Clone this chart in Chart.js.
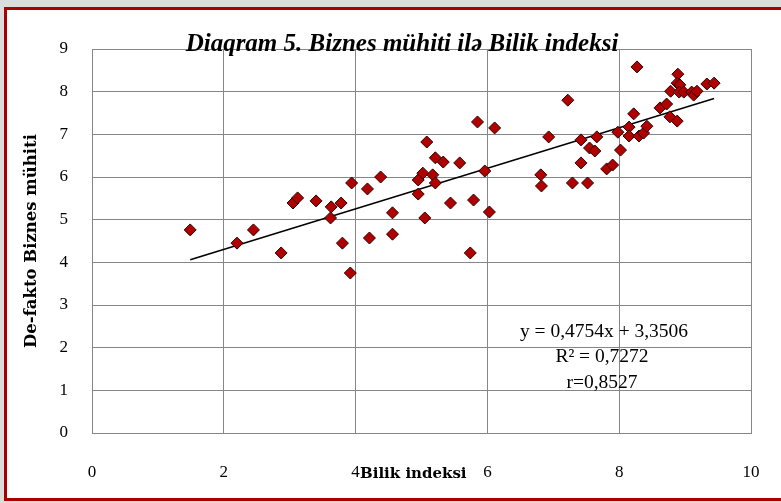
<!DOCTYPE html>
<html>
<head>
<meta charset="utf-8">
<script src="https://cdn.jsdelivr.net/npm/chart.js@4/dist/chart.umd.min.js"></script>
<style>
  html, body { margin: 0; padding: 0; width: 781px; height: 503px; overflow: hidden; background: #dcdcdc; }
  #frame { position: absolute; left: 4px; top: 7px; width: 800px; height: 488px; border: 3px solid #a80000; background: #fff; }
  #chartBiznes { position: absolute; left: 0; top: 0; }
</style>
</head>
<body>
<div id="frame"></div>
<canvas id="chartBiznes" width="781" height="503"></canvas>
<script>
// Bilik indeksi (x) vs De-fakto Biznes mühiti (y)
const bilikIndeksi = [
  1.49, 2.20, 2.45, 2.87, 3.05, 3.12, 3.40, 3.63, 3.62, 3.78,
  3.80, 3.92, 3.94, 4.18, 4.21, 4.38, 4.56, 4.56, 4.95, 4.95,
  5.02, 5.05, 5.08, 5.17, 5.21, 5.21, 5.33, 5.44, 5.58, 5.74,
  5.79, 5.85, 5.96, 6.03, 6.11, 6.81, 6.82, 6.93, 7.22, 7.29,
  7.42, 7.42, 7.52, 7.55, 7.63, 7.66, 7.81, 7.90, 7.98, 8.02,
  8.15, 8.15, 8.22, 8.27, 8.30, 8.37, 8.42, 8.62, 8.72, 8.77,
  8.78, 8.88, 8.89, 8.88, 8.92, 8.91, 8.98, 9.10, 9.13, 9.18,
  9.33, 9.44
];
const biznesMuhiti = [
  4.76, 4.45, 4.76, 4.22, 5.39, 5.51, 5.44, 5.30, 5.04, 5.39,
  4.45, 3.75, 5.86, 5.72, 4.57, 6.00, 5.16, 4.66, 5.60, 5.93,
  6.09, 5.04, 6.82, 6.05, 5.86, 6.45, 6.35, 5.39, 6.33, 4.22,
  5.46, 7.29, 6.14, 5.18, 7.15, 6.05, 5.79, 6.94, 7.80, 5.86,
  6.87, 6.33, 5.86, 6.68, 6.61, 6.94, 6.19, 6.28, 7.05, 6.63,
  7.17, 6.96, 7.48, 8.58, 6.96, 7.03, 7.19, 7.62, 7.71, 7.41,
  8.01, 7.31, 8.41, 8.20, 8.16, 7.99, 7.99, 7.99, 7.92, 8.01,
  8.18, 8.20
];
// trendline from the picture's equation
const trendSlope = 0.4754;
const trendIntercept = 3.3506;
const trendRange = [1.49, 9.44];
const trendLabels = ['y = 0,4754x + 3,3506', 'R² = 0,7272', 'r=0,8527'];
const chartTitle = 'Diaqram 5. Biznes mühiti ilə Bilik indeksi';
const xTitle = 'Bilik indeksi';
const yTitle = 'De-fakto Biznes mühiti';

document.addEventListener('DOMContentLoaded', function () {
  chartBiznesBilik();
});

function chartBiznesBilik() {
  const ctxBiznes = document.getElementById('chartBiznes').getContext('2d');
  const points = bilikIndeksi.map((x, i) => ({ x: x, y: biznesMuhiti[i] }));
  const trend = trendRange.map(x => ({ x: x, y: trendSlope * x + trendIntercept }));
  const serif = '"Liberation Serif", "DejaVu Serif", serif';
  const wideSerif = '"DejaVu Serif", serif';

  const textPlugin = {
    id: 'texts',
    afterDraw(chart) {
      const c = chart.ctx;
      c.save();
      c.fillStyle = '#000';
      c.textBaseline = 'middle';
      c.textAlign = 'center';
      c.font = 'bold italic 25px ' + serif;
      c.fillText(chartTitle, 402, 45);

      c.font = '19.5px ' + serif;
      c.fillText(trendLabels[0], 604, 332);
      c.fillText(trendLabels[1], 602, 357);
      c.fillText(trendLabels[2], 602, 383);

      c.textAlign = 'left';
      c.font = 'bold 15px ' + wideSerif;
      c.fillText(xTitle, 360, 474);

      c.translate(32, 241);
      c.rotate(-Math.PI / 2);
      c.textAlign = 'center';
      c.font = 'bold 16.5px ' + wideSerif;
      c.fillText(yTitle, 0, 0);
      c.restore();
    }
  };

  new Chart(ctxBiznes, {
    data: {
      datasets: [{
        type: 'scatter',
        label: 'Ölkələr',
        data: points,
        pointStyle: 'rectRot',
        pointRadius: 6,
        backgroundColor: '#b00000',
        borderColor: '#2a0000',
        borderWidth: 1
      }, {
        type: 'line',
        label: 'Trend',
        data: trend,
        borderColor: '#000',
        borderWidth: 1.5,
        pointRadius: 0,
        fill: false
      }]
    },
    options: {
      responsive: false,
      animation: false,
      devicePixelRatio: 1,
      layout: { padding: { top: 49, right: 30, left: 0, bottom: 0 } },
      plugins: {
        legend: { display: false },
        tooltip: { enabled: false },
        title: { display: false }
      },
      scales: {
        x: {
          type: 'linear',
          min: 0,
          max: 10,
          ticks: { stepSize: 2, color: '#000', padding: 29, font: { family: serif, size: 17 } },
          grid: { color: '#868686', drawTicks: false },
          border: { color: '#868686' },
          afterFit: function (scale) {
            scale.height = 70;
            scale.paddingLeft = 0;
            scale.paddingRight = 0;
          }
        },
        y: {
          type: 'linear',
          min: 0,
          max: 9,
          ticks: { stepSize: 1, color: '#000', padding: 24, font: { family: serif, size: 17 } },
          grid: { color: '#868686', drawTicks: false },
          border: { color: '#868686' },
          afterFit: function (scale) { scale.width = 92; }
        }
      }
    },
    plugins: [textPlugin]
  });
}
</script>
</body>
</html>
